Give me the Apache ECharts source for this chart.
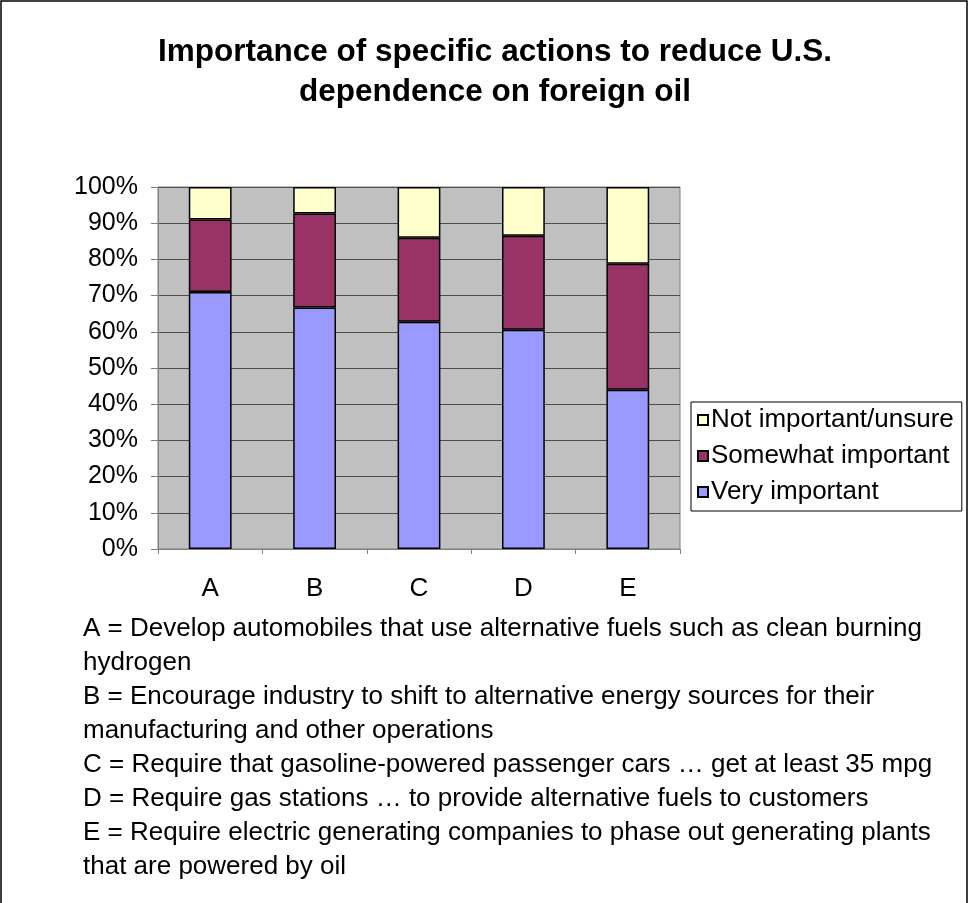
<!DOCTYPE html>
<html>
<head>
<meta charset="utf-8">
<script src="https://cdn.jsdelivr.net/npm/echarts@6/dist/echarts.min.js"></script>
<style>
  html, body { margin: 0; padding: 0; background: #fff; }
  #chart { width: 969px; height: 903px; }
</style>
</head>
<body>
<div id="chart"></div>
<script>
// data (percent of respondents)
var categories = ['A', 'B', 'C', 'D', 'E']
var veryImportant = [71.0, 66.7, 62.8, 60.6, 44.0]
var somewhatImportant = [20.0, 26.0, 23.2, 25.9, 34.8]
var notImportant = [9.0, 7.3, 14.0, 13.5, 21.2]
var seriesNames = ['Very important', 'Somewhat important', 'Not important/unsure']
var notes = [
  'A = Develop automobiles that use alternative fuels such as clean burning',
  'hydrogen',
  'B = Encourage industry to shift to alternative energy sources for their',
  'manufacturing and other operations',
  'C = Require that gasoline-powered passenger cars \u2026 get at least 35 mpg',
  'D = Require gas stations \u2026 to provide alternative fuels to customers',
  'E = Require electric generating companies to phase out generating plants',
  'that are powered by oil'
]

var font = 'Liberation Sans, Arial, sans-serif'
var myChart = echarts.init(document.getElementById('chart'))

function barSeries (name, data, color) {
  return {
    name: name,
    type: 'bar',
    stack: 'total',
    barWidth: '41%',
    data: data,
    itemStyle: { color: color, borderColor: '#000', borderWidth: 1.5 }
  }
}

var option = {
  animation: false,
  backgroundColor: '#fff',
  grid: {
    left: 158,
    right: 289,
    top: 187,
    bottom: 354,
    show: true,
    backgroundColor: '#c0c0c0',
    borderColor: '#808080',
    borderWidth: 1
  },
  legend: {
    orient: 'vertical',
    left: 691,
    top: 402,
    width: 276,
    padding: [5, 8, 6, 6],
    itemGap: 10,
    itemWidth: 10,
    itemHeight: 10,
    icon: 'rect',
    borderColor: '#000',
    borderWidth: 1,
    data: [seriesNames[2], seriesNames[1], seriesNames[0]],
    textStyle: { fontFamily: font, fontSize: 26, lineHeight: 26, color: '#000', padding: [0, 0, 0, -2] }
  },
  xAxis: {
    type: 'category',
    data: categories,
    axisLine: { lineStyle: { color: '#808080', width: 1 } },
    axisTick: { show: true, length: 5, lineStyle: { color: '#808080' } },
    axisLabel: { fontFamily: font, fontSize: 26, color: '#000', margin: 27 }
  },
  yAxis: {
    type: 'value',
    min: 0,
    max: 100,
    interval: 10,
    axisLine: { show: true, lineStyle: { color: '#808080', width: 1 } },
    axisTick: { show: true, length: 7, lineStyle: { color: '#808080' } },
    axisLabel: { fontFamily: font, fontSize: 25, color: '#000', margin: 20, formatter: '{value}%' },
    splitLine: { lineStyle: { color: '#4d4d4d', width: 1 } }
  },
  graphic: [
    {
      type: 'rect',
      shape: { x: 1, y: 1, width: 966, height: 920 },
      style: { fill: 'none', stroke: '#000', lineWidth: 1.5 },
      silent: true
    },
    {
      type: 'text',
      x: 495,
      y: 32,
      style: {
        text: 'Importance of specific actions to reduce U.S.\ndependence on foreign oil',
        font: 'bold 31.5px ' + font,
        fill: '#000',
        align: 'center',
        lineHeight: 40
      }
    },
    {
      type: 'text',
      left: 83,
      top: 612,
      style: {
        text: notes.join('\n'),
        font: '26px ' + font,
        fill: '#000',
        lineHeight: 34
      }
    }
  ],
  series: [
    barSeries(seriesNames[0], veryImportant, '#9999ff'),
    barSeries(seriesNames[1], somewhatImportant, '#993366'),
    barSeries(seriesNames[2], notImportant, '#ffffcc')
  ]
}

myChart.setOption(option)
</script>
</body>
</html>
